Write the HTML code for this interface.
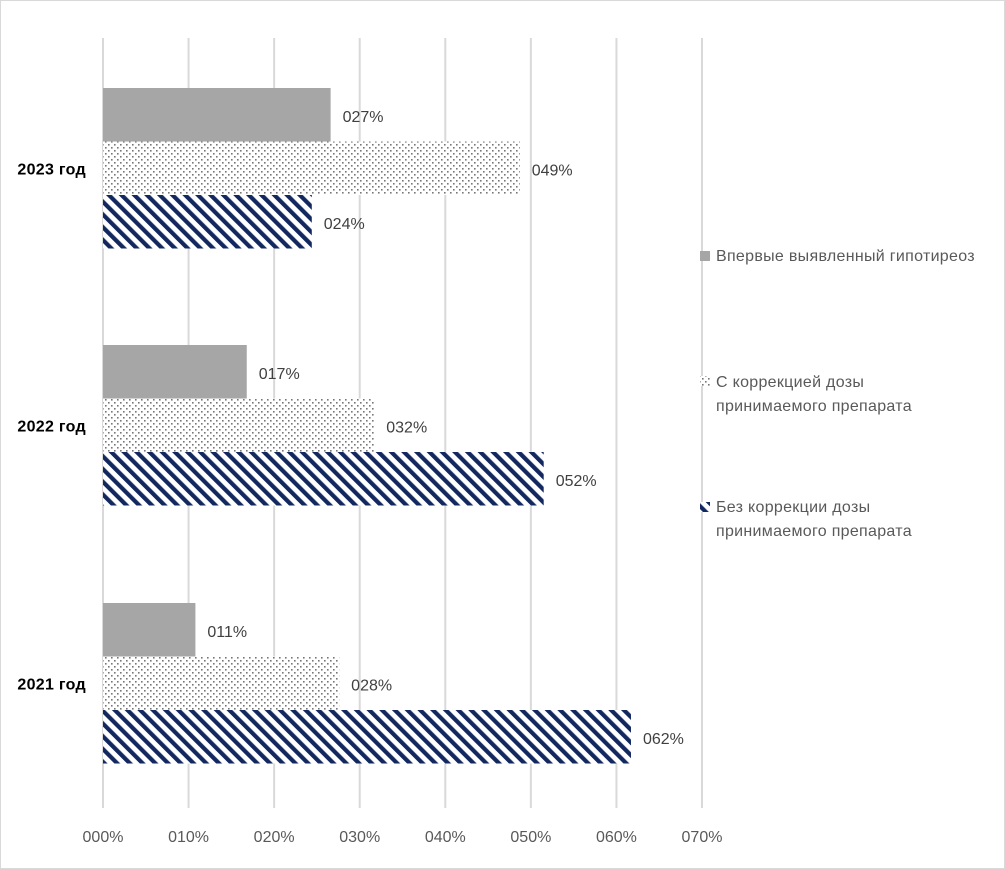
<!DOCTYPE html>
<html><head><meta charset="utf-8"><style>
body{margin:0;background:#fff}
svg{display:block;font-family:"Liberation Sans","DejaVu Sans",sans-serif}
</style></head><body>
<svg id="chart" width="1005" height="869" viewBox="0 0 1005 869" xmlns="http://www.w3.org/2000/svg">
<defs>
<pattern id="dots" width="6" height="6" patternUnits="userSpaceOnUse">
<rect width="6" height="6" fill="#fff"/>
<rect x="0" y="0" width="1.6" height="1.6" fill="#777"/>
<rect x="3" y="3" width="1.6" height="1.6" fill="#777"/>
</pattern>
<pattern id="stripes" width="9" height="9" patternUnits="userSpaceOnUse" patternTransform="rotate(-45)">
<rect width="9" height="9" fill="#fff"/>
<rect x="0" y="0" width="4.2" height="9" fill="#12285e"/>
</pattern>
</defs>
<rect x="0.5" y="0.5" width="1004" height="868" fill="#fff" stroke="#d9d9d9"/>
<g id="grid"></g>
<g id="bars"></g>
<g id="labels"></g>
<g id="legend" font-size="16" fill="#595959" letter-spacing="0.3">
<rect x="700" y="251" width="10" height="10" fill="#a6a6a6"/>
<text x="716" y="261">Впервые выявленный гипотиреоз</text>
<rect x="700" y="376" width="10" height="10" fill="url(#dots)"/>
<text x="716" y="387">С коррекцией дозы</text>
<text x="716" y="411">принимаемого препарата</text>
<rect x="700" y="502" width="10" height="10" fill="url(#stripes)"/>
<text x="716" y="512">Без коррекции дозы</text>
<text x="716" y="536">принимаемого препарата</text>
</g>
</svg>
<script>
const categories = ["2023 год","2022 год","2021 год"];
const seriesNew = [26.6, 16.8, 10.8];
const seriesCorr = [48.7, 31.7, 27.6];
const seriesNoCorr = [24.4, 51.5, 61.7];
const labelsNew = ["027%","017%","011%"];
const labelsCorr = ["049%","032%","028%"];
const labelsNoCorr = ["024%","052%","062%"];
const tickValues = [0,10,20,30,40,50,60,70];
const tickLabels = ["000%","010%","020%","030%","040%","050%","060%","070%"];

const NS="http://www.w3.org/2000/svg";
const x0=103, pxPer=(702-103)/70;
const xs=v=>x0+v*pxPer;
const groupTop=[88,345,603], barH=53.5;
const grid=document.getElementById('grid'), bars=document.getElementById('bars'), labs=document.getElementById('labels');
function mk(tag,attrs,parent){const e=document.createElementNS(NS,tag);for(const k in attrs)e.setAttribute(k,attrs[k]);parent.appendChild(e);return e;}
tickValues.forEach((t,i)=>{
  const l=mk('line',{x1:xs(t),x2:xs(t),y1:38,y2:808,stroke:'#d9d9d9','stroke-width':2},grid);
  
  
  const tx=mk('text',{x:xs(t),y:842,'text-anchor':'middle','font-size':16,fill:'#595959'},grid);
  tx.textContent=tickLabels[i];
  
  
});
const series=[[seriesNew,'#a6a6a6',labelsNew,'new'],[seriesCorr,'url(#dots)',labelsCorr,'corr'],[seriesNoCorr,'url(#stripes)',labelsNoCorr,'nocorr']];
categories.forEach((c,ci)=>{
  const ct=mk('text',{x:86,y:groupTop[ci]+barH*1.5+6,'text-anchor':'end','font-size':16,'font-weight':'bold',fill:'#000','letter-spacing':0.3},labs);
  ct.textContent=c;
  
  
  series.forEach((s,si)=>{
    const y=groupTop[ci]+si*barH;
    const r=mk('rect',{x:x0,y:y,width:xs(s[0][ci])-x0,height:barH,fill:s[1]},bars);
    
    
    const t=mk('text',{x:xs(s[0][ci])+12,y:y+barH/2+7,'font-size':16,fill:'#404040'},labs);
    t.textContent=s[2][ci];
    
    
  });
});
</script>
</body></html>
